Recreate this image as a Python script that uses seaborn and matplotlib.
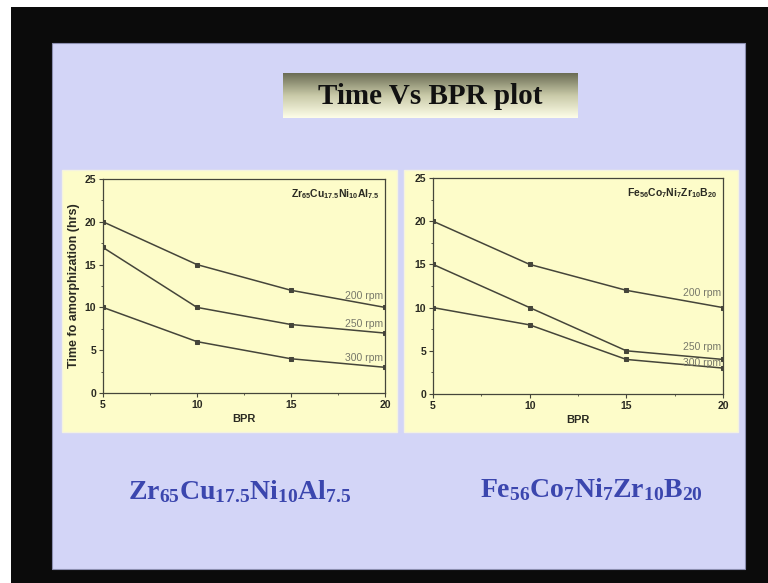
import numpy as np
import pandas as pd
import seaborn as sns
import matplotlib
matplotlib.use("Agg")
import matplotlib.pyplot as plt
import matplotlib.patches as patches
from matplotlib.ticker import MultipleLocator

# data
bpr = [5, 10, 15, 20]
speeds = ["200 rpm", "250 rpm", "300 rpm"]
zr_times = {"200 rpm": [20, 15, 12, 10],
            "250 rpm": [17, 10, 8, 7],
            "300 rpm": [10, 6, 4, 3]}
fe_times = {"200 rpm": [20, 15, 12, 10],
            "250 rpm": [15, 10, 5, 4],
            "300 rpm": [10, 8, 4, 3]}
zr_label_y = [11.3, 8.1, 4.1]
fe_label_y = [11.7, 5.4, 3.6]

title = "Time Vs BPR plot"
zr_name = r"Zr$_{65}$Cu$_{17.5}$Ni$_{10}$Al$_{7.5}$"
fe_name = r"Fe$_{56}$Co$_{7}$Ni$_{7}$Zr$_{10}$B$_{20}$"

SLIDE = "#d3d5f7"
PANEL = "#fdfcc9"
LINE = "#45453a"
INK = "#3b46ae"

sns.set_style("ticks")
plt.rcParams["font.family"] = ["Liberation Sans", "DejaVu Sans"]
plt.rcParams["mathtext.default"] = "regular"

W, H = 768, 583
fig = plt.figure(figsize=(W / 100, H / 100), dpi=100)
fig.patch.set_facecolor("#0b0b0b")


def frect(x0, y0, x1, y1, **kw):
    # rectangle in pixel coords (top-left origin) -> figure fraction
    r = patches.Rectangle((x0 / W, 1 - y1 / H), (x1 - x0) / W, (y1 - y0) / H,
                          transform=fig.transFigure, **kw)
    fig.add_artist(r)
    return r


# screenshot margin, slide, panels
frect(0, 0, 11, H, facecolor="white", edgecolor="none", zorder=0)
frect(0, 0, W, 7, facecolor="white", edgecolor="none", zorder=0)
frect(52, 43, 745, 569, facecolor=SLIDE, edgecolor="#8c8fb0", lw=0.8, zorder=0)
frect(62, 170, 397, 432, facecolor=PANEL, edgecolor="#f4f2e0", lw=1, zorder=0)
frect(404, 170, 738, 432, facecolor=PANEL, edgecolor="#f4f2e0", lw=1, zorder=0)

# title box with a dark-to-light gradient
tax = fig.add_axes([283 / W, 1 - 118 / H, (578 - 283) / W, (118 - 73) / H])
grad = np.linspace(0, 1, 64).reshape(-1, 1)
cmap = matplotlib.colors.LinearSegmentedColormap.from_list(
    "box", ["#6b6d55", "#c9caa8", "#fdfde8"])
tax.imshow(grad, aspect="auto", cmap=cmap, extent=[0, 1, 0, 1])
tax.set_axis_off()
tax.text(0.5, 0.47, title, ha="center", va="center", fontsize=21,
         fontweight="bold", family=["Liberation Serif", "DejaVu Serif"],
         color="#111111", transform=tax.transAxes)


def draw(ax, times, label_y, name, ylabel):
    rows = []
    for s in speeds:
        for x, y in zip(bpr, times[s]):
            rows.append({"BPR": x, "time": y, "speed": s})
    df = pd.DataFrame(rows)
    sns.lineplot(data=df, x="BPR", y="time", hue="speed", ax=ax,
                 palette=[LINE] * len(speeds), marker="s", markersize=3.5,
                 markeredgecolor=LINE, linewidth=1.1, legend=False)
    ax.set_facecolor(PANEL)
    ax.set_xlim(5, 20)
    ax.set_ylim(0, 25)
    ax.xaxis.set_major_locator(MultipleLocator(5))
    ax.xaxis.set_minor_locator(MultipleLocator(2.5))
    ax.yaxis.set_major_locator(MultipleLocator(5))
    ax.yaxis.set_minor_locator(MultipleLocator(2.5))
    for sp in ax.spines.values():
        sp.set_visible(True)
        sp.set_color(LINE)
        sp.set_linewidth(0.9)
    ax.tick_params(which="major", direction="out", length=3, width=0.8,
                   color=LINE, labelsize=7.5, pad=2, labelcolor="#2a2a22")
    ax.tick_params(which="minor", direction="out", length=1.5, width=0.6,
                   color=LINE)
    for lab in ax.get_xticklabels() + ax.get_yticklabels():
        lab.set_fontweight("bold")
    ax.set_xlabel("BPR", fontsize=8, fontweight="bold", color="#2a2a22",
                  labelpad=3)
    ax.set_ylabel(ylabel, fontsize=9, fontweight="bold", color="#2a2a22",
                  labelpad=3)
    for s, ly in zip(speeds, label_y):
        ax.text(19.9, ly, s, ha="right", va="center", fontsize=7.5,
                color="#77786a", family=["Liberation Sans Narrow", "Liberation Sans"])
    ax.text(0.98, 0.93, name, ha="right", va="center", fontsize=7.5,
            fontweight="bold", color="#2a2a22", transform=ax.transAxes)


ax1 = fig.add_axes([103 / W, 1 - 393 / H, (385 - 103) / W, (393 - 179) / H])
draw(ax1, zr_times, zr_label_y, zr_name, "Time fo amorphization (hrs)")
ax2 = fig.add_axes([433 / W, 1 - 394 / H, (723 - 433) / W, (394 - 178) / H])
draw(ax2, fe_times, fe_label_y, fe_name, "")

# alloy names under the panels
serif = ["Liberation Serif", "DejaVu Serif"]
fig.text(240 / W, 1 - 492 / H, zr_name, ha="center", va="center", fontsize=20,
         fontweight="bold", family=serif, color=INK)
fig.text(591 / W, 1 - 490 / H, fe_name, ha="center", va="center", fontsize=20,
         fontweight="bold", family=serif, color=INK)

fig.savefig("out.png", dpi=100, facecolor=fig.get_facecolor())
